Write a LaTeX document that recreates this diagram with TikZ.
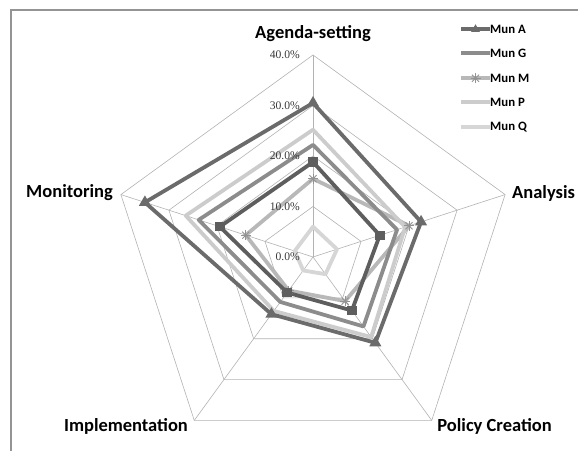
\documentclass[tikz,border=0pt]{standalone}
\usepackage{fontspec}
\setmainfont{Carlito}
\newfontfamily\pctfont{Liberation Serif}
\usetikzlibrary{shapes.geometric}

\definecolor{frameGray}{gray}{0.58}
\definecolor{gridGray}{gray}{0.70}
\definecolor{pctGray}{gray}{0.22}
\definecolor{munA}{gray}{0.42}
\definecolor{munS}{gray}{0.37}
\definecolor{munG}{gray}{0.55}
\definecolor{munM}{gray}{0.72}
\definecolor{munP}{gray}{0.80}
\definecolor{munQ}{gray}{0.84}

\tikzset{
  gridline/.style={draw=gridGray, line width=0.6pt},
  serie/.style={line width=3.8pt, line join=round},
  axislabel/.style={font=\bfseries\fontsize{18.5}{20}\selectfont, inner sep=0pt},
  pctlabel/.style={font=\pctfont\fontsize{11.6}{12}\selectfont, text=pctGray, anchor=east, inner sep=0pt},
  leglabel/.style={font=\bfseries\fontsize{12.8}{14}\selectfont, anchor=west, inner sep=0pt},
  trimark/.style={regular polygon, regular polygon sides=3, fill=munA, inner sep=0pt, minimum size=14pt},
  sqmark/.style={rectangle, fill=munS, inner sep=0pt, minimum size=9.5pt},
}

% one closed series on the five axes
\newcommand\munpoly[7]{%
  \draw[#2] (90:#3) coordinate (#1-1) -- (18:#4) coordinate (#1-2)
    -- (-54:#5) coordinate (#1-3) -- (-126:#6) coordinate (#1-4)
    -- (162:#7) coordinate (#1-5) -- cycle;}
% small asterisk marker
\newcommand\starmark[2]{%
  \foreach \r in {0,45,90,135}
    \draw[#2, line width=0.9pt, shift={(#1)}] (\r:5pt) -- (\r+180:5pt);}

\begin{document}
\begin{tikzpicture}[x=1pt,y=1pt]
  \useasboundingbox (0,0) rectangle (578,450);
  \draw[frameGray, line width=1.5pt] (11,-2) -- (11,440) -- (582,440);

  \begin{scope}[shift={(313,193)}, x=5.05pt, y=5.05pt]
    % web
    \foreach \k in {10,20,30,40}
      \draw[gridline] (90:\k) -- (18:\k) -- (-54:\k) -- (-126:\k) -- (162:\k) -- cycle;
    \foreach \a in {90,18,-54,-126,162}
      \draw[gridline] (0,0) -- (\a:40);

    % series
    \munpoly{Q}{serie, munQ}{6}{5}{4.2}{3.3}{3.8}
    \munpoly{M}{serie, munM}{15.5}{20}{10.8}{8.2}{14}
    \munpoly{P}{serie, munP}{25.2}{19.2}{19.6}{13.2}{26.5}
    \munpoly{G}{serie, munG}{22.2}{17.5}{17}{11}{23.8}
    \munpoly{S}{serie, munS}{18.8}{13.9}{13.1}{8.7}{19.4}
    \munpoly{A}{serie, munA}{30.5}{22.5}{21}{14}{35}

    \foreach \i in {1,...,5} {
      \starmark{M-\i}{munM!80!black}
      \node[sqmark] (sq-\i) at (S-\i) {};
      \node[trimark] (tri-\i) at (A-\i) {};
    }
  \end{scope}

  % scale
  \foreach \k/\t in {0/0.0,1/10.0,2/20.0,3/30.0,4/40.0}
    \node[pctlabel] (pct\k) at (300,193+50.5*\k) {\t\%};

  % axis names
  \node[axislabel] (agenda) at (313,416) {Agenda-setting};
  \node[axislabel, anchor=west] (analysis) at (512,257) {Analysis};
  \node[axislabel] (policy) at (494.6,24) {Policy Creation};
  \node[axislabel] (impl) at (126,24) {Implementation};
  \node[axislabel, anchor=east] (monitor) at (113,257) {Monitoring};

  % legend
  \foreach \y/\n/\c in {420.7/A/munA, 396.7/G/munG, 371.7/M/munM, 347.7/P/munP, 323.3/Q/munQ} {
    \coordinate (leg\n-l) at (461,\y);
    \node[leglabel] (leg\n) at (490,\y) {Mun \n};
    \draw[\c, line width=4pt] (leg\n-l) -- (leg\n.west);
  }
  \node[trimark, minimum size=10pt] (legA-m) at (475.5,420.7) {};
  \starmark{475.5,371.7}{munM!80!black}
\end{tikzpicture}
\end{document}
